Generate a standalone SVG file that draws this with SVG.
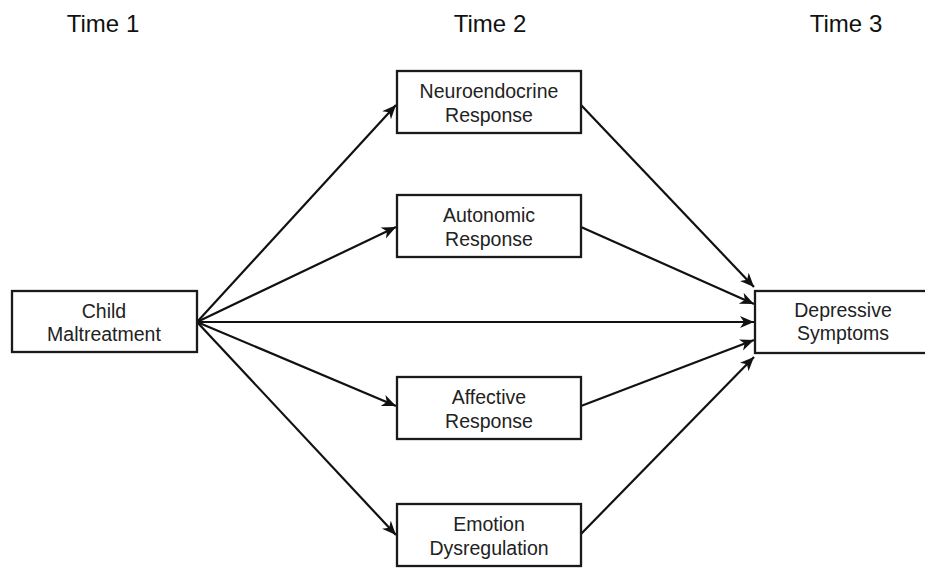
<svg xmlns="http://www.w3.org/2000/svg" width="925" height="568" viewBox="0 0 925 568">
<style>
.box{fill:#fff;stroke:#1a1a1a;stroke-width:2.3}
.lbl{font-family:"Liberation Sans",Arial,sans-serif;font-size:19.5px;fill:#222;text-anchor:middle}
.ttl{font-family:"Liberation Sans",Arial,sans-serif;font-size:24px;fill:#111;text-anchor:middle}
.edge{stroke:#111;stroke-width:2.2;fill:none;marker-end:url(#ah)}
</style>
<defs>
<marker id="ah" markerUnits="userSpaceOnUse" markerWidth="16" markerHeight="14" refX="14" refY="6" orient="auto">
<path d="M0,0 L14,6 L0,12 L4,6 z" fill="#111"/>
</marker>
</defs>
<rect width="925" height="568" fill="#fff"/>
<g id="titles">
<text class="ttl" x="103" y="32">Time 1</text>
<text class="ttl" x="490" y="32">Time 2</text>
<text class="ttl" x="846" y="32">Time 3</text>
</g>
<g id="connectors">
<line class="edge" x1="197" y1="322" x2="396" y2="105"/>
<line class="edge" x1="197" y1="322" x2="396" y2="227"/>
<line class="edge" x1="197" y1="322" x2="754" y2="322"/>
<line class="edge" x1="197" y1="322" x2="396" y2="406"/>
<line class="edge" x1="197" y1="322" x2="396" y2="535"/>
<line class="edge" x1="581" y1="105" x2="754" y2="287"/>
<line class="edge" x1="581" y1="227" x2="754" y2="304"/>
<line class="edge" x1="581" y1="406" x2="754" y2="340"/>
<line class="edge" x1="581" y1="534" x2="754" y2="357"/>
</g>
<g id="child">
<rect class="box" x="12" y="291" width="185" height="61"/>
<text class="lbl" x="104" y="318">Child</text>
<text class="lbl" x="104" y="341">Maltreatment</text>
</g>
<g id="neuro">
<rect class="box" x="397" y="71" width="184" height="62"/>
<text class="lbl" x="489" y="98">Neuroendocrine</text>
<text class="lbl" x="489" y="122">Response</text>
</g>
<g id="autonomic">
<rect class="box" x="397" y="195" width="184" height="62"/>
<text class="lbl" x="489" y="222">Autonomic</text>
<text class="lbl" x="489" y="246">Response</text>
</g>
<g id="affective">
<rect class="box" x="397" y="377" width="184" height="62"/>
<text class="lbl" x="489" y="404">Affective</text>
<text class="lbl" x="489" y="428">Response</text>
</g>
<g id="emotion">
<rect class="box" x="397" y="504" width="184" height="62"/>
<text class="lbl" x="489" y="531">Emotion</text>
<text class="lbl" x="489" y="555">Dysregulation</text>
</g>
<g id="depressive">
<rect class="box" x="755" y="291" width="178" height="62"/>
<text class="lbl" x="843" y="317">Depressive</text>
<text class="lbl" x="843" y="340">Symptoms</text>
</g>
</svg>
